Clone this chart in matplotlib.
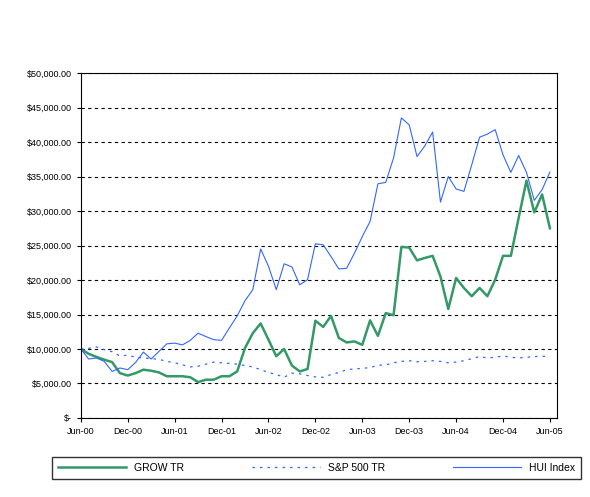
import matplotlib.pyplot as plt
import matplotlib.ticker as mticker

plt.rcParams['font.family'] = ['Liberation Sans', 'DejaVu Sans']

months = list(range(61))
tick_pos = list(range(0, 61, 6))
tick_labels = ['Jun-00', 'Dec-00', 'Jun-01', 'Dec-01', 'Jun-02', 'Dec-02',
               'Jun-03', 'Dec-03', 'Jun-04', 'Dec-04', 'Jun-05']

grow = [10000, 9300, 8850, 8450, 8100, 6500, 6150, 6500, 7000, 6850,
        6600, 6050, 6050, 6050, 5900, 5200, 5550, 5550, 6050, 6050,
        6750, 10150, 12300, 13700, 11350, 8950, 10000, 7600, 6750, 7100,
        14100, 13200, 14800, 11600, 10950, 11100, 10600, 14150, 11900, 15200,
        14900, 24800, 24700, 22850, 23200, 23500, 20500, 15800, 20300, 18850,
        17650, 18850, 17650, 20050, 23500, 23500, 29000, 34400, 29800, 32400,
        27500]
sp500 = [10000, 10100, 10300, 9900, 9600, 9000, 9100, 8800, 8700, 8600,
         8500, 8200, 8000, 7700, 7400, 7500, 7800, 8100, 8000, 7900,
         7800, 7600, 7400, 7000, 6600, 6300, 5900, 6500, 6400, 6150,
         5950, 5900, 6300, 6600, 7000, 7100, 7200, 7300, 7650, 7700,
         8000, 8200, 8300, 8150, 8200, 8300, 8200, 8000, 8100, 8300,
         8600, 8900, 8700, 8800, 9000, 8800, 8700, 8800, 8900, 8950,
         8900]
hui = [10000, 8550, 8700, 8200, 6750, 7250, 7000, 8050, 9550, 8550,
       9650, 10750, 10850, 10600, 11250, 12300, 11800, 11350, 11250, 13050,
       14800, 17000, 18600, 24500, 22000, 18600, 22350, 21900, 19300, 20050,
       25250, 25100, 23400, 21600, 21700, 23900, 26300, 28500, 33950, 34150,
       37700, 43500, 42500, 37900, 39450, 41450, 31300, 35000, 33200, 32850,
       36700, 40700, 41150, 41800, 38150, 35600, 38050, 35600, 31550, 33100,
       35650]

fig = plt.figure(figsize=(5.9, 4.97), dpi=100)
ax = fig.add_axes([0.137, 0.159, 0.807, 0.694])

ax.plot(months, grow, color='#339966', linewidth=1.8, label='GROW TR')
ax.plot(months, sp500, color='#3366FF', linewidth=0.9, linestyle=(0, (2, 4)), label='S&P 500 TR')
ax.plot(months, hui, color='#3366FF', linewidth=0.8, label='HUI Index')

ax.set_xlim(0, 60.9)
ax.set_ylim(0, 50000)
ax.set_xticks(tick_pos)
ax.set_xticklabels(tick_labels)
ax.set_yticks(range(0, 50001, 5000))
ax.yaxis.set_major_formatter(mticker.FuncFormatter(
    lambda v, p: '$-' if v == 0 else f'${v:,.2f}'))
ax.tick_params(labelsize=6.5, length=3, direction='out')
ax.grid(axis='y', color='black', linestyle=(0, (3, 3)), linewidth=0.8)
for s in ax.spines.values():
    s.set_linewidth(0.8)

fig.legend(loc='lower center', bbox_to_anchor=(0.537, 0.025), ncol=3,
           fontsize=7.5, frameon=True, fancybox=False, edgecolor='black',
           handlelength=6.5, columnspacing=6.5, borderpad=0.6)

fig.savefig('out.png', dpi=100)
